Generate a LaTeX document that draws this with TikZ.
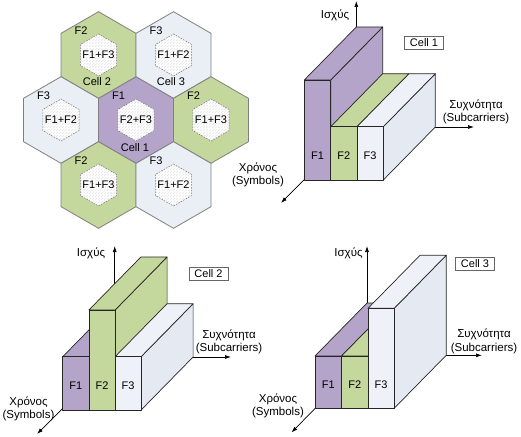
\documentclass[tikz,border=0pt]{standalone}
\usepackage{fontspec}
\setmainfont{Liberation Sans}
\usetikzlibrary{arrows.meta,patterns}
\definecolor{purpleF}{RGB}{180,164,201}
\definecolor{greenF}{RGB}{196,215,156}
\definecolor{lightF}{RGB}{234,238,245}
\definecolor{lightB}{RGB}{238,241,247}
\definecolor{lightS}{RGB}{228,233,242}
\definecolor{hexgray}{RGB}{128,128,128}
\tikzset{
  hexline/.style={draw=hexgray, line width=0.8pt},
  innerhex/.style={draw=black!55, line width=0.5pt, dash pattern=on 1.6pt off 1.2pt,
    preaction={fill=white}, pattern=north east lines, pattern color=black!10},
  flab/.style={font=\fontsize{11}{12}\selectfont, inner sep=0pt},
  htxt/.style={font=\fontsize{11}{12}\selectfont, inner sep=0pt},
  boxline/.style={draw=black!85, line width=0.7pt, line join=round},
  boxlab/.style={font=\fontsize{11}{12}\selectfont, inner sep=0pt},
  axisline/.style={draw=black, line width=0.7pt, -{Latex[length=6pt,width=4pt]}},
  axlab/.style={font=\fontsize{11.5}{13.5}\selectfont, align=center, inner sep=0pt},
  cellbox/.style={draw=black!60, fill=white, font=\fontsize{11}{12}\selectfont,
    minimum width=39pt, minimum height=13pt, inner sep=1pt, line width=0.6pt}
}
% #1 name, #2 cx, #3 cy, #4 fill, #5 F label, #6 inner label
\newcommand\hexcell[6]{%
  \begin{scope}[shift={(#2,#3)}]
    \draw[hexline, fill=#4] (90:43.3) -- (30:43.3) -- (-30:43.3) -- (-90:43.3) -- (-150:43.3) -- (150:43.3) -- cycle;
    \draw[innerhex] (90:21) -- (30:21) -- (-30:21) -- (-90:21) -- (-150:21) -- (150:21) -- cycle;
    \node[flab] (#1f) at (-17.5,-24) {#5};
    \node[htxt] (#1i) at (0,0) {#6};
  \end{scope}}
% #1 x0, #2 y0 (front bottom left), #3 width, #4 height, #5 fill, #6 side fill, #7 name, #8 label
\newcommand\cuboid[8]{%
  \filldraw[boxline, fill=#6] ({#1+#3},{#2}) -- ++(52,-53) -- ++(0,-#4) -- ++(-52,53) -- cycle;
  \filldraw[boxline, fill=#5] ({#1},{#2-#4}) -- ++(#3,0) -- ++(52,-53) -- ++(-#3,0) -- cycle;
  \filldraw[boxline, fill=#5] ({#1},{#2}) rectangle ++(#3,-#4);
  \node[boxlab] (#7) at ({#1+#3/2},{#2-24}) {#8};}
\begin{document}
\begin{tikzpicture}[x=1pt,y=-1pt]
\path[use as bounding box] (0,0) rectangle (521,436);
% ---------- hexagonal cells ----------
\hexcell{hc}{136}{120}{purpleF}{F1}{F2+F3}
\hexcell{ha}{98.5}{55}{greenF}{F2}{F1+F3}
\hexcell{hb}{173.5}{55}{lightF}{F3}{F1+F2}
\hexcell{hl}{61}{120}{lightF}{F3}{F1+F2}
\hexcell{hr}{211}{120}{greenF}{F2}{F1+F3}
\hexcell{hd}{98.5}{185}{greenF}{F2}{F1+F3}
\hexcell{he}{173.5}{185}{lightF}{F3}{F1+F2}
\node[htxt] (lc1) at (135,148) {Cell 1};
\node[htxt] (lc2) at (97,82) {Cell 2};
\node[htxt] (lc3) at (171,82) {Cell 3};
% ---------- Cell 1 diagram ----------
\coordinate (o1) at (356.3,127);
\coordinate (v1) at (356.3,1);
\coordinate (f1) at (474,127);
\coordinate (t1) at (281,203);
\draw[axisline] (o1) -- (v1);
\draw[axisline] (o1) -- (f1);
\draw[axisline] (o1) -- (t1);
\cuboid{304.3}{180}{26.4}{100}{purpleF}{purpleF}{a1}{F1}
\cuboid{330.7}{180}{26.3}{53.3}{greenF}{greenF}{a2}{F2}
\cuboid{357}{180}{26.3}{53.3}{lightB}{lightS}{a3}{F3}
\node[axlab] (p1) at (335,15) {Ισχύς};
\node[axlab] (s1) at (476,112) {Συχνότητα\\(Subcarriers)};
\node[axlab] (x1) at (258,175) {Χρόνος\\(Symbols)};
\node[cellbox] (cb1) at (424,43) {Cell 1};
% ---------- Cell 2 diagram ----------
\coordinate (o2) at (114.7,357);
\coordinate (v2) at (114.7,246);
\coordinate (f2) at (231,357);
\coordinate (t2) at (37,434);
\draw[axisline] (o2) -- (v2);
\draw[axisline] (o2) -- (f2);
\draw[axisline] (o2) -- (t2);
\cuboid{62.7}{410}{26.2}{53.3}{purpleF}{purpleF}{b1}{F1}
\cuboid{88.9}{410}{26.2}{100}{greenF}{greenF}{b2}{F2}
\cuboid{115.1}{410}{26}{53.3}{lightB}{lightS}{b3}{F3}
\node[axlab] (p2) at (91,253) {Ισχύς};
\node[axlab] (s2) at (229,342) {Συχνότητα\\(Subcarriers)};
\node[axlab] (x2) at (28.5,409) {Χρόνος\\(Symbols)};
\node[cellbox] (cb2) at (208.5,273.5) {Cell 2};
% ---------- Cell 3 diagram ----------
\coordinate (o3) at (367,355.3);
\coordinate (v3) at (367,246);
\coordinate (f3) at (482,355.3);
\coordinate (t3) at (291.5,432.5);
\draw[axisline] (o3) -- (v3);
\draw[axisline] (o3) -- (f3);
\draw[axisline] (o3) -- (t3);
\cuboid{315}{408.3}{26.5}{52.3}{purpleF}{purpleF}{c1}{F1}
\cuboid{341.5}{408.3}{26.5}{52.3}{greenF}{greenF}{c2}{F2}
\cuboid{368}{408.3}{26.2}{100}{lightB}{lightS}{c3}{F3}
\node[axlab] (p3) at (348.5,253) {Ισχύς};
\node[axlab] (s3) at (484,341.5) {Συχνότητα\\(Subcarriers)};
\node[axlab] (x3) at (278,406) {Χρόνος\\(Symbols)};
\node[cellbox] (cb3) at (475,263.5) {Cell 3};
\end{tikzpicture}
\end{document}
